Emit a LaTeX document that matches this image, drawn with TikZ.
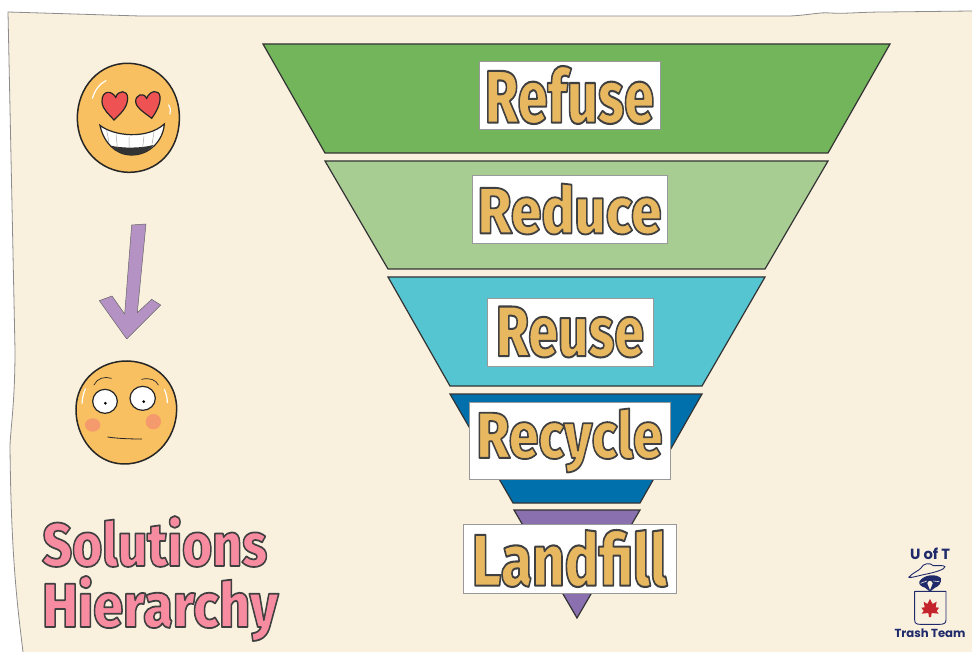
\documentclass[tikz,border=0pt]{standalone}
\usepackage{fontspec}
\usepackage{graphicx}
\setmainfont{Fira Sans}
\newfontfamily\heavyfont{Fira Sans ExtraBold}
\newfontfamily\logofont{Poppins}
\definecolor{paper}{HTML}{F9F0DE}
\definecolor{ggreen}{HTML}{73B55B}
\definecolor{lgreen}{HTML}{A8CD93}
\definecolor{teal2}{HTML}{55C5D2}
\definecolor{blue2}{HTML}{0070AD}
\definecolor{purp}{HTML}{8B70B0}
\definecolor{facey}{HTML}{F8C060}
\definecolor{heart}{HTML}{EE5253}
\definecolor{cheek}{HTML}{F49A6C}
\definecolor{arrowp}{HTML}{B592C4}
\definecolor{navy}{HTML}{1F2A6B}
\definecolor{mapler}{HTML}{C4252C}
% outlined text: #1 fill rgb, #2 stroke width, #3 text
\newcommand\outl[3]{\special{pdf:code q 2 Tr #2 w 1 j 0.25 0.25 0.25 RG #1 rg}{\heavyfont\fontsize{60}{60}\selectfont #3}\special{pdf:code Q}}
\newcommand\goldtxt[3]{\resizebox*{#1pt}{#2pt}{\outl{0.91 0.72 0.38}{1.7}{#3}}}
\newcommand\pinktxt[3]{\resizebox*{#1pt}{#2pt}{\outl{0.97 0.55 0.63}{1.7}{#3}}}
\tikzset{
 tier/.style={draw=black!80,line width=1.2pt,line join=miter},
 labelbox/.style={draw=black!40,fill=white,line width=.7pt,inner sep=0pt,outer sep=0pt,anchor=center},
 faceout/.style={draw=black!85,line width=1.5pt,fill=facey},
 ink/.style={draw=black!85,line width=1.2pt,line cap=round},
 shine/.style={draw=white,line width=1.2pt,line cap=round},
 logoln/.style={draw=navy,line width=.9pt,line join=round,line cap=round},
 titletxt/.style={inner sep=0pt,anchor=west},
}
\begin{document}
\begin{tikzpicture}[x=1pt,y=-1pt]
\useasboundingbox (0,0) rectangle (972,652);
\fill[white] (0,0) rectangle (972,652);
% paper
\fill[paper] (8,12) -- (140,16) -- (790,16) .. controls (810,15) and (820,12) .. (830,13) .. controls (845,14) and (860,12) .. (885,12) -- (972,11) -- (972,652) -- (23,652) .. controls (18,610) and (11,560) .. (10,445) .. controls (11,425) and (15,400) .. (15,350) -- (9,60) -- cycle;
\draw[black!45,line width=.8pt] (972,11) -- (885,12) .. controls (860,12) and (845,14) .. (830,13) .. controls (820,12) and (810,15) .. (790,16) -- (140,16) -- (8,12) -- (9,60) -- (15,350) .. controls (15,400) and (11,425) .. (10,445) .. controls (11,560) and (18,610) .. (23,652);
% funnel
\draw[tier,fill=ggreen] (263,44) -- (890,44) -- (828,153) -- (325,153) -- cycle;
\draw[tier,fill=lgreen] (325,161) -- (828,161) -- (765,269) -- (388,269) -- cycle;
\draw[tier,fill=teal2] (388,277) -- (765,277) -- (702,386) -- (450,386) -- cycle;
\draw[tier,fill=blue2] (450,394) -- (702,394) -- (640,503) -- (513,503) -- cycle;
\draw[tier,fill=purp] (514,510) -- (640,510) -- (577,618) -- cycle;
% labels
\node[labelbox,minimum width=181pt,minimum height=68pt] (refuse) at (569.5,95) {\goldtxt{169}{58}{Refuse}};
\node[labelbox,minimum width=195pt,minimum height=68pt] (reduce) at (569.5,209) {\goldtxt{184}{51}{Reduce}};
\node[labelbox,minimum width=166pt,minimum height=68pt] (reuse) at (570,332) {\goldtxt{148}{51}{Reuse}};
\node[labelbox,minimum width=201pt,minimum height=77pt] (recycle) at (569.5,440.5) {\goldtxt{186}{64}{Recycle}};
\node[labelbox,minimum width=213pt,minimum height=69pt] (landfill) at (569.5,558.5) {\goldtxt{195}{57}{Landfill}};
% title
\node[titletxt] (sol) at (42,541.5) {\pinktxt{225}{51}{Solutions}};
\node[titletxt] (hier) at (42,608.5) {\pinktxt{236}{65}{Hierarchy}};
% happy face
\begin{scope}[shift={(50,40)},scale=1/3]
\draw[faceout] (82,235) .. controls (82,140) and (150,68) .. (235,70) .. controls (330,72) and (392,150) .. (388,240) .. controls (385,335) and (320,398) .. (235,397) .. controls (150,395) and (82,325) .. (82,235) -- cycle;
\draw[ink,fill=heart] (197,172) .. controls (185,150) and (155,150) .. (156,185) .. controls (157,210) and (180,225) .. (192,240) .. controls (210,222) and (232,205) .. (233,175) .. controls (233,148) and (205,150) .. (197,172) -- cycle;
\draw[ink,fill=heart] (290,175) .. controls (280,155) and (256,165) .. (257,185) .. controls (258,205) and (290,222) .. (305,235) .. controls (320,215) and (332,190) .. (330,170) .. controls (328,148) and (300,150) .. (290,175) -- cycle;
\draw[ink,fill=white] (150,256) .. controls (190,288) and (290,300) .. (343,252) .. controls (340,300) and (300,345) .. (245,345) .. controls (195,345) and (160,305) .. (150,256) -- cycle;
\fill[black!80] (183,317) .. controls (215,325) and (275,325) .. (310,315) .. controls (295,335) and (270,345) .. (245,345) .. controls (220,345) and (197,333) .. (183,317) -- cycle;
\draw[black!35,line width=.5pt] (198,282) -- (202,322) (237,291) -- (237,324) (282,289) -- (278,322) (312,276) -- (306,313) (170,270) -- (177,308);
\draw[shine] (127,175) .. controls (135,150) and (150,130) .. (168,122);
\draw[shine] (356,195) .. controls (362,205) and (362,212) .. (360,222);
\end{scope}
% arrow
\begin{scope}[shift={(50,210)},scale=1/3]
\draw[draw=black!60,line width=.5pt,fill=arrowp,line join=round] (245,45) -- (288,42) -- (262,308) -- (305,268) -- (332,285) -- (230,387) -- (148,272) -- (186,258) -- (224,312) -- cycle;
% worried face
\draw[faceout] (78,595) .. controls (80,510) and (150,452) .. (232,453) .. controls (320,455) and (382,520) .. (380,600) .. controls (378,690) and (310,763) .. (220,762) .. controls (135,760) and (76,680) .. (78,595) -- cycle;
\fill[cheek] (128,645) ellipse (23 and 20);
\fill[cheek] (310,635) ellipse (23 and 23);
\draw[ink,fill=white] (165,574) ellipse (37 and 36);
\draw[ink,fill=white] (278,565) ellipse (38 and 36);
\fill[black] (166,580) circle (4.5);
\fill[black] (281,575) circle (4.5);
\draw[ink,line width=.7pt] (132,525) .. controls (140,505) and (165,498) .. (184,505);
\draw[ink,line width=.7pt] (275,508) .. controls (300,502) and (318,510) .. (325,525);
\draw[ink,line width=.8pt] (173,681) .. controls (205,686) and (245,687) .. (275,687);
\draw[shine] (106,537) .. controls (100,550) and (97,565) .. (96,580);
\draw[shine] (343,538) .. controls (349,550) and (352,565) .. (352,578);
\end{scope}
% logo
\begin{scope}[shift={(880,535)},scale=1/3]
\node[font=\logofont\bfseries,text=navy,inner sep=0pt] (uoft) at (150,55) {\resizebox{40pt}{!}{U of T}};
\node[font=\logofont\bfseries,text=navy,inner sep=0pt] (trash) at (150,295) {\resizebox{71pt}{!}{Trash Team}};
\fill[navy] (118,140) .. controls (130,118) and (170,115) .. (183,130) .. controls (185,145) and (175,155) .. (165,158) -- (150,170) -- (135,158) .. controls (125,155) and (116,150) .. (118,140) -- cycle;
\fill[paper] (142,145) -- (150,165) -- (158,145) .. controls (155,135) and (145,135) .. (142,145) -- cycle;
\draw[paper,line width=.6pt] (122,145) -- (140,138) (178,140) -- (160,138);
\draw[logoln,fill=paper] (86,127) .. controls (100,112) and (115,108) .. (122,100) .. controls (130,84) and (150,82) .. (160,92) .. controls (175,92) and (190,90) .. (195,95) .. controls (195,103) and (165,112) .. (140,117) .. controls (115,122) and (90,130) .. (86,127) -- cycle;
\draw[logoln,fill=paper!95!white] (104,169) -- (198,169) -- (198,255) .. controls (198,265) and (190,268) .. (180,268) -- (120,268) .. controls (110,268) and (104,265) .. (104,255) -- cycle;
\fill[mapler] (150,192) -- (158,207) -- (170,200) -- (167,217) -- (177,218) -- (170,228) -- (176,236) -- (155,234) -- (153,246) -- (147,246) -- (145,234) -- (125,236) -- (131,228) -- (124,218) -- (134,217) -- (131,200) -- (142,207) -- cycle;
\end{scope}
\end{tikzpicture}
\end{document}
